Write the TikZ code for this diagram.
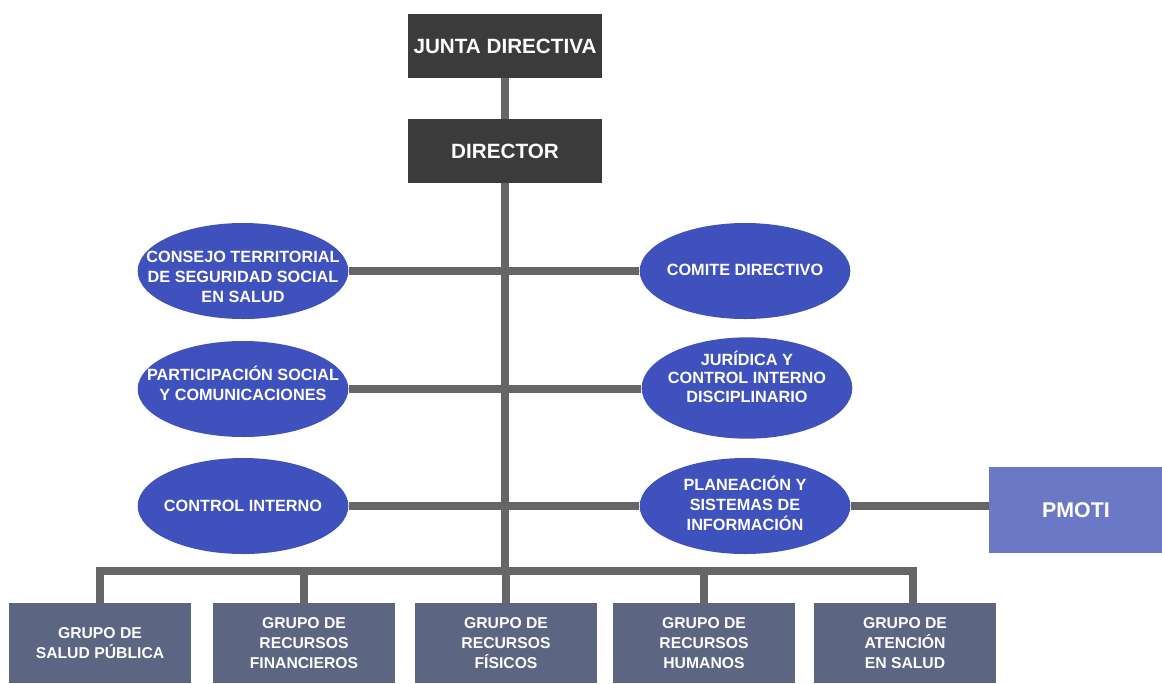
\documentclass[tikz,border=0pt]{standalone}
\usepackage{fontspec}
\setmainfont{Liberation Sans}
\usetikzlibrary{shapes.geometric}
\definecolor{boxdark}{HTML}{3B3B3B}
\definecolor{linegray}{HTML}{666666}
\definecolor{ellblue}{HTML}{3F51BD}
\definecolor{pmoblue}{HTML}{6B78C6}
\definecolor{slate}{HTML}{5C6581}
\begin{document}
\begin{tikzpicture}[x=0.75pt,y=-0.75pt,
  topbox/.style={fill=boxdark,text=white,minimum width=145.5pt,minimum height=48pt,inner sep=0pt,
    font=\bfseries\fontsize{15.5}{18}\selectfont},
  ell/.style={ellipse,fill=ellblue,minimum width=158pt,minimum height=72pt,inner sep=0pt},
  elltext/.style={text=white,align=center,inner sep=0pt,font=\bfseries\fontsize{12.2}{15}\selectfont},
  grp/.style={fill=slate,text=white,minimum width=137pt,minimum height=60pt,inner sep=0pt,align=center,
    font=\bfseries\fontsize{11.8}{15}\selectfont},
  pmo/.style={fill=pmoblue,text=white,minimum width=130.5pt,minimum height=64.5pt,inner sep=0pt,
    font=\bfseries\fontsize{16}{18}\selectfont},
  conn/.style={draw=linegray,line width=6pt,line join=miter}]
\useasboundingbox (0,0) rectangle (1162,683);

% head of the organisation
\node[topbox] (junta) at (505,46) {JUNTA DIRECTIVA};
\node[topbox] (dir) at (505,151) {DIRECTOR};

% advisory units on both sides of the trunk
\node[ell] (l1) at (243,271) {};
\node[elltext] (l1t) at ([yshift=-4.5pt]l1) {CONSEJO TERRITORIAL\\DE SEGURIDAD SOCIAL\\EN SALUD};
\node[ell] (r1) at (745,271) {};
\node[elltext] (r1t) at ([yshift=1pt]r1) {COMITE DIRECTIVO};
\node[ell] (l2) at (243,389) {};
\node[elltext] (l2t) at ([yshift=4.5pt]l2) {PARTICIPACIÓN SOCIAL\\Y COMUNICACIONES};
\node[ell,minimum height=76pt] (r2) at (747,388) {};
\node[elltext,font=\bfseries\fontsize{12.2}{14}\selectfont] (r2t) at ([yshift=8.5pt]r2)
  {JURÍDICA Y\\CONTROL INTERNO\\DISCIPLINARIO};
\node[ell] (l3) at (243,506) {};
\node[elltext] (l3t) at (l3) {CONTROL INTERNO};
\node[ell] (r3) at (745,506) {};
\node[elltext] (r3t) at ([yshift=2pt]r3) {PLANEACIÓN Y\\SISTEMAS DE\\INFORMACIÓN};
\node[pmo] (pmoti) at (1076,510) {PMOTI};

% working groups
\node[grp] (g1) at (100,643) {GRUPO DE\\SALUD PÚBLICA};
\node[grp] (g2) at (304,643) {GRUPO DE\\RECURSOS\\FINANCIEROS};
\node[grp] (g3) at (506,643) {GRUPO DE\\RECURSOS\\FÍSICOS};
\node[grp] (g4) at (704,643) {GRUPO DE\\RECURSOS\\HUMANOS};
\node[grp] (g5) at (905,643) {GRUPO DE\\ATENCIÓN\\EN SALUD};

\coordinate (bus) at (505,571);
\coordinate (g5top) at ([xshift=6pt]g5.north);

% connectors
\draw[conn] (junta.south) -- (dir.north);
\draw[conn] (dir.south) -- (dir.south |- bus);
\draw[conn] (l1.east) -- (l1.east -| r1.west);
\draw[conn] (l2.east) -- (l2.east -| r2.west);
\draw[conn] (l3.east) -- (l3.east -| r3.west);
\draw[conn] (r3.east) -- (r3.east -| pmoti.west);
\draw[conn] (g1.north) -- (g1.north |- bus) -- (g5top |- bus) -- (g5top);
\draw[conn] (g2.north) -- (g2.north |- bus);
\draw[conn] (g3.north) -- (g3.north |- bus);
\draw[conn] (g4.north) -- (g4.north |- bus);
\end{tikzpicture}
\end{document}
